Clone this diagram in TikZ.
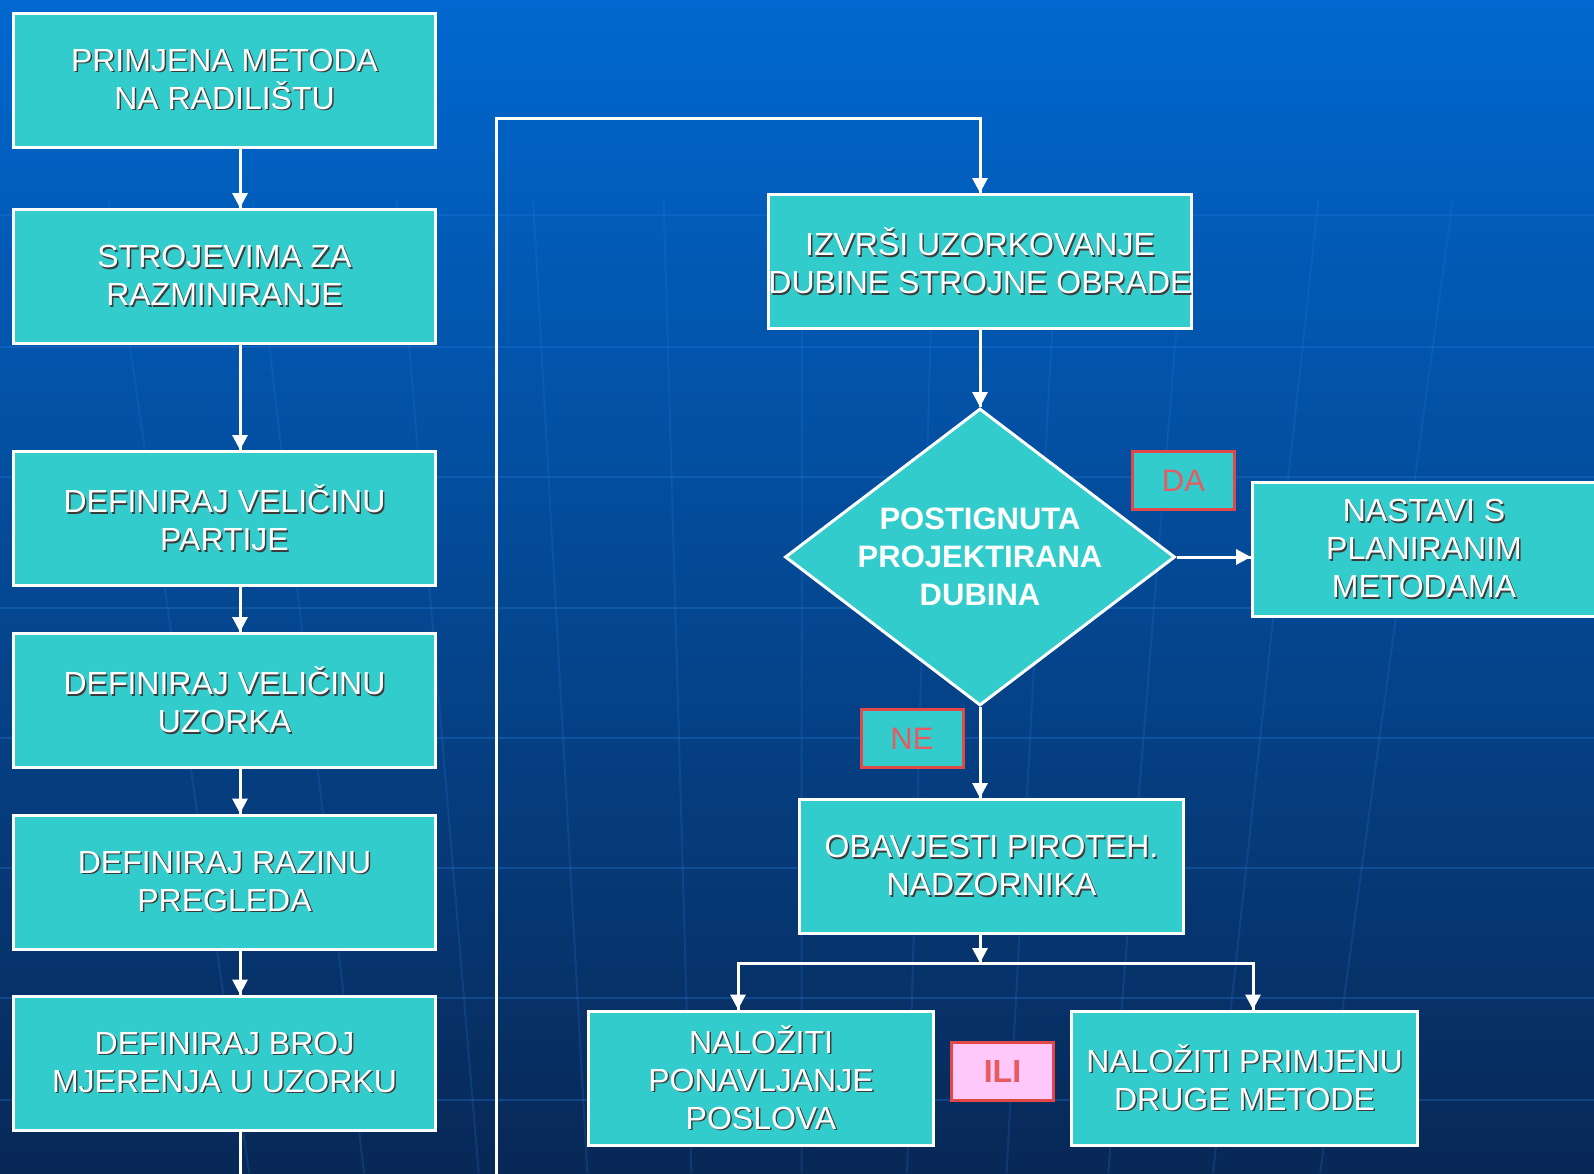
\documentclass[tikz,border=0pt]{standalone}
\usepackage{fontspec}
\setmainfont{Liberation Sans}
\usepackage{tikz}
\usetikzlibrary{arrows.meta}
\usetikzlibrary{decorations.markings}
\usetikzlibrary{shapes.geometric}
\definecolor{bgtop}{RGB}{0,104,208}
\definecolor{bgmid}{RGB}{3,80,166}
\definecolor{bgbot}{RGB}{8,40,86}
\definecolor{gridblue}{RGB}{40,125,225}
\definecolor{boxteal}{RGB}{51,204,204}
\definecolor{tagred}{RGB}{226,72,72}
\definecolor{tagtext}{RGB}{232,90,96}
\definecolor{tagpink}{RGB}{255,200,250}
\definecolor{shadowgray}{RGB}{60,60,60}
\newcommand{\sh}[1]{\rlap{\kern1.5pt\raisebox{-1.5pt}{\color{shadowgray}#1}}#1}
\tikzset{->/.style = {decoration={markings,
                                  mark=at position 1 with {\arrow{Triangle[width=15pt,length=15pt]}}},
                      postaction={decorate}}}
\tikzset{link/.style = {white, line width=3pt}}
\tikzset{grid/.style = {draw=gridblue, line width=2pt, opacity=0.3}}
\tikzset{box/.style = {rectangle, draw=white, line width=3pt, fill=boxteal, text=white,
                       align=center, inner sep=0pt, minimum width=422pt, minimum height=134pt,
                       font=\fontsize{32}{38}\selectfont}}
\tikzset{decision/.style = {diamond, draw=white, line width=3pt, fill=boxteal,
                            inner sep=0pt, minimum width=390pt, minimum height=297pt}}
\tikzset{dectext/.style = {text=white, align=center, inner sep=0pt,
                           font=\fontsize{31}{38}\selectfont\bfseries}}
\tikzset{tag/.style = {rectangle, draw=tagred, line width=3pt, fill=boxteal, text=tagtext,
                       inner sep=0pt, minimum width=102pt, minimum height=58pt,
                       font=\fontsize{31}{38}\selectfont}}

\begin{document}
\begin{tikzpicture}[x=1pt, y=-1pt]
      \useasboundingbox (0,0) rectangle (1594,1173);
      \shade [top color=bgtop, middle color=bgmid, bottom color=bgbot] (0,0) rectangle (1594,1173);
      \foreach \y in {215, 347, 477, 608, 738, 868, 998, 1100}
        \draw [grid] (0,\y) -- (1594,\y);
      \foreach \x in {80, 230, 380, 522, 658, 802, 940, 1070, 1203, 1340, 1480}
        \draw [grid, opacity=0.2] ({\x+0.04*(800-\x)},200) -- ({\x+0.235*(800-\x)},1173);

      % left column
      \node [box] (prim) at (224.5,80) {\sh{PRIMJENA METODA}\\\sh{NA RADILIŠTU}};
      \node [box] (stroj) at (224.5,276.5) {\sh{STROJEVIMA ZA}\\\sh{RAZMINIRANJE}};
      \node [box] (velpart) at (224.5,518.5) {\sh{DEFINIRAJ VELIČINU}\\\sh{PARTIJE}};
      \node [box] (veluz) at (224.5,700.5) {\sh{DEFINIRAJ VELIČINU}\\\sh{UZORKA}};
      \node [box] (razina) at (224.5,882) {\sh{DEFINIRAJ RAZINU}\\\sh{PREGLEDA}};
      \node [box] (broj) at (224.5,1063) {\sh{DEFINIRAJ BROJ}\\\sh{MJERENJA U UZORKU}};

      % right part
      \node [box] (izvrsi) at (980,261.5) {\sh{IZVRŠI UZORKOVANJE}\\\sh{DUBINE STROJNE OBRADE}};
      \node [decision] (dubina) at (980,557) {};
      \node [dectext] (dubinatxt) at (dubina) {POSTIGNUTA\\PROJEKTIRANA\\DUBINA};
      \node [box, minimum width=343pt] (nastavi) at (1424,549.5) {\sh{NASTAVI S}\\\sh{PLANIRANIM}\\\sh{METODAMA}};
      \node [box, minimum width=384pt] (obav) at (991.5,866.5) {\sh{OBAVJESTI PIROTEH.}\\\sh{NADZORNIKA}};
      \node [box, minimum width=345pt] (ponav) at (761,1078) {\sh{NALOŽITI}\\\sh{PONAVLJANJE}\\\sh{POSLOVA}};
      \node [box, minimum width=346pt] (primj) at (1244.5,1078) {\sh{NALOŽITI PRIMJENU}\\\sh{DRUGE METODE}};
      \node [tag] (da) at (1183.5,480.5) {DA};
      \node [tag] (ne) at (912,738.5) {NE};
      \node [tag, fill=tagpink, font=\fontsize{32}{38}\selectfont\bfseries] (ili) at (1002.5,1071) {ILI};

      \coordinate (loopfoot) at (496,1185);
      \coordinate (split) at (980,963);

      \draw [link, ->] ([xshift=15.5pt]prim.south) -- ([xshift=15.5pt]stroj.north);
      \draw [link, ->] ([xshift=15.5pt]stroj.south) -- ([xshift=15.5pt]velpart.north);
      \draw [link, ->] ([xshift=15.5pt]velpart.south) -- ([xshift=15.5pt]veluz.north);
      \draw [link, ->] ([xshift=15.5pt]veluz.south) -- ([xshift=15.5pt]razina.north);
      \draw [link, ->] ([xshift=15.5pt]razina.south) -- ([xshift=15.5pt]broj.north);
      \draw [link] ([xshift=15.5pt]broj.south) -- ++(0,60);

      \draw [link, ->] (loopfoot) |- (izvrsi.north |- 0,118) -- (izvrsi.north);
      \draw [link, ->] (izvrsi.south) -- (dubina.north);
      \draw [link, ->] (dubina.east) -- (dubina.east -| nastavi.west);
      \draw [link, ->] (dubina.south) -- (dubina.south |- obav.north);
      \draw [link, ->] (split |- obav.south) -- (split);
      \draw [link, ->] (split) -| ([xshift=-23pt]ponav.north);
      \draw [link, ->] (split) -| ([xshift=8.5pt]primj.north);
\end{tikzpicture}
\end{document}
